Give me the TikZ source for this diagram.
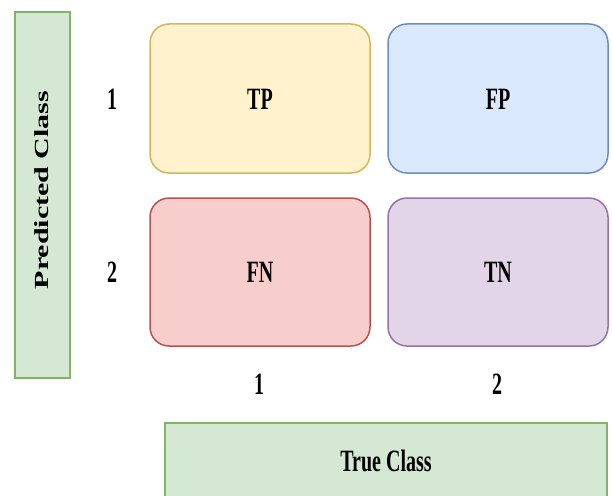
\documentclass[tikz,border=0pt]{standalone}
\usepackage{fontspec}
\setmainfont{Liberation Serif}
\definecolor{yfill}{HTML}{FFF2CC}\definecolor{ydraw}{HTML}{D6B656}
\definecolor{bfill}{HTML}{DAE8FC}\definecolor{bdraw}{HTML}{6C8EBF}
\definecolor{rfill}{HTML}{F8CECC}\definecolor{rdraw}{HTML}{B85450}
\definecolor{pfill}{HTML}{E1D5E7}\definecolor{pdraw}{HTML}{9673A6}
\definecolor{gfill}{HTML}{D5E8D4}\definecolor{gdraw}{HTML}{82B366}
\newcommand{\stretchtxt}[1]{\scalebox{1}[1.55]{\bfseries #1}}
\begin{document}
\begin{tikzpicture}[x=1pt,y=-1pt,
  cell/.style={draw=#1draw,fill=#1fill,line width=1.5pt,rounded corners=19pt},
  bar/.style={draw=gdraw,fill=gfill,line width=1.5pt},
  lbl/.style={inner sep=0pt,font=\fontsize{20}{24}\selectfont}]
\useasboundingbox (0,0) rectangle (612,495);
\clip (0,0) rectangle (612,495);
\fill[white] (0,0) rectangle (612,495);
% bars
\draw[bar] (15,12) rectangle (70,378);
\draw[bar] (165,423) rectangle (607,500);
% cells
\draw[cell=y] (150,24) rectangle (370,173);
\draw[cell=b] (388,24) rectangle (608,173);
\draw[cell=r] (150,198) rectangle (370,346);
\draw[cell=p] (388,198) rectangle (608,346);
% texts
\node[lbl] (tp) at (260,99) {\stretchtxt{TP}};
\node[lbl] (fp) at (498,99) {\stretchtxt{FP}};
\node[lbl] (fn) at (260,272) {\stretchtxt{FN}};
\node[lbl] (tn) at (498,272) {\stretchtxt{TN}};
\node[lbl] (r1) at (112,99) {\stretchtxt{1}};
\node[lbl] (r2) at (112,272) {\stretchtxt{2}};
\node[lbl] (c1) at (259,384) {\stretchtxt{1}};
\node[lbl] (c2) at (497,384) {\stretchtxt{2}};
\node[lbl] (tc) at (386,461) {\stretchtxt{True Class}};
\node[lbl] (pc) at (42,190) {\rotatebox{90}{\scalebox{1.5}[1]{\bfseries Predicted Class}}};
\end{tikzpicture}
\end{document}
